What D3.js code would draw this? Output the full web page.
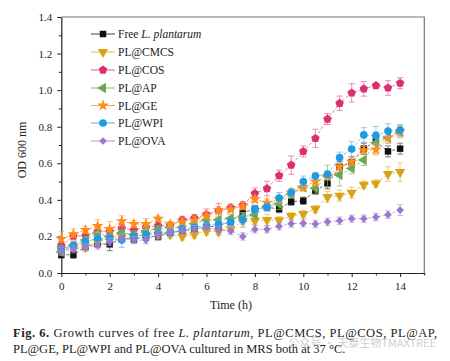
<!DOCTYPE html>
<html>
<head>
<meta charset="utf-8">
<script src="https://cdn.jsdelivr.net/npm/d3@7"></script>
<style>
  body { margin: 0; background: #fff; }
  svg { display: block; }
</style>
</head>
<body>
<div id="chart"></div>
<script>
const width = 450;
const height = 361;

const times = d3.range(0, 14.01, 0.5);
const seriesNames = ["Free L. plantarum", "PL@CMCS", "PL@COS", "PL@AP", "PL@GE", "PL@WPI", "PL@OVA"];
const seriesColors = ["#111111", "#d9a20f", "#dc2f73", "#6aa84f", "#ff8c1a", "#1e9be3", "#9a78cf"];
const lineColors = ["#444444", "#e2b84a", "#e35a8e", "#86b86c", "#ffa44a", "#55b3ea", "#ae95d9"];

const freeVals = [0.10, 0.10, 0.145, 0.16, 0.157, 0.19, 0.185, 0.20, 0.20, 0.22, 0.23, 0.24, 0.25, 0.26, 0.28, 0.33, 0.35, 0.36, 0.35, 0.39, 0.395, 0.45, 0.49, 0.58, 0.605, 0.68, 0.72, 0.665, 0.68];
const cmcsVals = [0.13, 0.14, 0.14, 0.17, 0.19, 0.20, 0.20, 0.21, 0.21, 0.21, 0.20, 0.21, 0.228, 0.226, 0.24, 0.284, 0.286, 0.29, 0.288, 0.312, 0.323, 0.35, 0.416, 0.423, 0.439, 0.483, 0.49, 0.541, 0.552];
const cosVals = [0.15, 0.20, 0.204, 0.226, 0.226, 0.244, 0.235, 0.25, 0.257, 0.26, 0.29, 0.30, 0.32, 0.341, 0.357, 0.37, 0.435, 0.462, 0.532, 0.59, 0.665, 0.736, 0.842, 0.928, 0.985, 1.007, 1.025, 1.012, 1.038];
const apVals = [0.115, 0.15, 0.18, 0.217, 0.20, 0.22, 0.21, 0.23, 0.24, 0.25, 0.25, 0.27, 0.29, 0.291, 0.299, 0.308, 0.317, 0.363, 0.377, 0.43, 0.468, 0.463, 0.53, 0.536, 0.572, 0.618, 0.712, 0.739, 0.77];
const geVals = [0.186, 0.212, 0.235, 0.257, 0.241, 0.283, 0.268, 0.268, 0.297, 0.266, 0.28, 0.29, 0.315, 0.344, 0.348, 0.366, 0.403, 0.384, 0.403, 0.441, 0.47, 0.50, 0.53, 0.581, 0.609, 0.672, 0.676, 0.74, 0.776];
const wpiVals = [0.13, 0.15, 0.17, 0.19, 0.19, 0.18, 0.20, 0.21, 0.22, 0.22, 0.24, 0.25, 0.26, 0.268, 0.279, 0.29, 0.348, 0.36, 0.41, 0.44, 0.50, 0.53, 0.54, 0.631, 0.678, 0.755, 0.751, 0.776, 0.782];
const ovaVals = [0.12, 0.13, 0.14, 0.15, 0.17, 0.19, 0.18, 0.18, 0.21, 0.22, 0.23, 0.24, 0.25, 0.235, 0.23, 0.20, 0.239, 0.239, 0.255, 0.27, 0.272, 0.268, 0.28, 0.286, 0.297, 0.297, 0.306, 0.319, 0.344];

const freeErr = [0.02, 0.02, 0.02, 0.02, 0.035, 0.02, 0.02, 0.02, 0.02, 0.02, 0.02, 0.02, 0.02, 0.02, 0.02, 0.02, 0.02, 0.02, 0.02, 0.02, 0.02, 0.02, 0.03, 0.03, 0.03, 0.03, 0.04, 0.03, 0.03];
const cmcsErr = [0.02, 0.02, 0.02, 0.02, 0.02, 0.02, 0.02, 0.02, 0.02, 0.02, 0.02, 0.02, 0.02, 0.02, 0.02, 0.02, 0.02, 0.03, 0.02, 0.02, 0.02, 0.02, 0.03, 0.03, 0.03, 0.02, 0.02, 0.04, 0.05];
const cosErr = [0.02, 0.02, 0.02, 0.02, 0.02, 0.02, 0.02, 0.02, 0.02, 0.02, 0.02, 0.02, 0.03, 0.04, 0.02, 0.02, 0.03, 0.04, 0.03, 0.05, 0.03, 0.05, 0.03, 0.04, 0.05, 0.04, 0.01, 0.04, 0.03];
const apErr = [0.02, 0.02, 0.02, 0.03, 0.02, 0.02, 0.02, 0.02, 0.02, 0.02, 0.02, 0.02, 0.02, 0.02, 0.02, 0.02, 0.02, 0.02, 0.03, 0.02, 0.02, 0.03, 0.06, 0.06, 0.03, 0.03, 0.06, 0.03, 0.03];
const geErr = [0.04, 0.03, 0.02, 0.035, 0.04, 0.03, 0.02, 0.03, 0.015, 0.015, 0.02, 0.02, 0.02, 0.02, 0.02, 0.02, 0.02, 0.02, 0.02, 0.02, 0.02, 0.02, 0.02, 0.02, 0.02, 0.02, 0.03, 0.03, 0.03];
const wpiErr = [0.02, 0.02, 0.02, 0.02, 0.02, 0.04, 0.02, 0.02, 0.02, 0.02, 0.02, 0.02, 0.02, 0.02, 0.02, 0.04, 0.02, 0.02, 0.03, 0.02, 0.03, 0.02, 0.02, 0.03, 0.04, 0.04, 0.05, 0.04, 0.03];
const ovaErr = [0.02, 0.02, 0.02, 0.02, 0.02, 0.02, 0.02, 0.02, 0.02, 0.02, 0.02, 0.02, 0.02, 0.02, 0.02, 0.02, 0.02, 0.02, 0.02, 0.02, 0.02, 0.02, 0.02, 0.02, 0.02, 0.02, 0.02, 0.02, 0.03];

const yTicks = [0, 0.2, 0.4, 0.6, 0.8, 1.0, 1.2, 1.4];
const xTicks = [0, 2, 4, 6, 8, 10, 12, 14];

const allVals = [freeVals, cmcsVals, cosVals, apVals, geVals, wpiVals, ovaVals];
const allErr = [freeErr, cmcsErr, cosErr, apErr, geErr, wpiErr, ovaErr];

const font = "'Liberation Serif', 'Times New Roman', serif";

const svg = d3.select("#chart").append("svg")
    .attr("width", width)
    .attr("height", height);

const x = d3.scaleLinear().domain([0, 15]).range([61.3, 424.3]);
const y = d3.scaleLinear().domain([0, 1.4]).range([273, 17]);

// pentagon shape for the COS series
const pentagon = {
    draw(context, size) {
        const r = Math.sqrt(size / 2.38);
        for (let i = 0; i < 5; i++) {
            const a = -Math.PI / 2 + i * 2 * Math.PI / 5;
            if (i === 0) context.moveTo(r * Math.cos(a), r * Math.sin(a));
            else context.lineTo(r * Math.cos(a), r * Math.sin(a));
        }
        context.closePath();
    }
};

const markers = [
    { type: d3.symbolSquare, size: 42, rot: 0 },
    { type: d3.symbolTriangle, size: 46, rot: 180 },
    { type: pentagon, size: 48, rot: 0 },
    { type: d3.symbolTriangle, size: 46, rot: -90 },
    { type: d3.symbolStar, size: 44, rot: 0 },
    { type: d3.symbolCircle, size: 46, rot: 0 },
    { type: d3.symbolSquare, size: 30, rot: 45 }
];

// frame (top and right)
svg.append("path")
    .attr("d", `M${x(0)},${y(1.4)} H${x(15)} V${y(0)}`)
    .attr("fill", "none")
    .attr("stroke", "#777")
    .attr("stroke-width", 1.2);

// axes
const xAxis = svg.append("g")
    .attr("transform", `translate(0,${y(0)})`)
    .call(d3.axisBottom(x).tickValues(xTicks).tickFormat(d3.format("d")).tickSize(4).tickSizeOuter(0));
svg.append("g")
    .attr("transform", `translate(0,${y(0)})`)
    .call(d3.axisBottom(x).tickValues(d3.range(1, 16, 2)).tickFormat("").tickSize(2.5).tickSizeOuter(0))
    .select(".domain").remove();

const yAxis = svg.append("g")
    .attr("transform", `translate(${x(0)},0)`)
    .call(d3.axisLeft(y).tickValues(yTicks).tickFormat(d3.format(".1f")).tickSize(4).tickSizeOuter(0));
svg.append("g")
    .attr("transform", `translate(${x(0)},0)`)
    .call(d3.axisLeft(y).tickValues(d3.range(0.1, 1.4, 0.2)).tickFormat("").tickSize(2.5).tickSizeOuter(0))
    .select(".domain").remove();

svg.selectAll(".domain").attr("stroke", "#222").attr("stroke-width", 1.2);
svg.selectAll(".tick line").attr("stroke", "#222");
svg.selectAll(".tick text")
    .attr("font-family", font)
    .attr("font-size", 11)
    .attr("fill", "#222");
xAxis.selectAll(".tick text").attr("dy", "0.9em");
yAxis.selectAll(".tick text").attr("x", -9);

svg.append("text")
    .attr("x", 231)
    .attr("y", 309)
    .attr("text-anchor", "middle")
    .attr("font-family", font)
    .attr("font-size", 12)
    .attr("fill", "#222")
    .text("Time (h)");

svg.append("text")
    .attr("transform", "translate(26,150) rotate(-90)")
    .attr("text-anchor", "middle")
    .attr("font-family", font)
    .attr("font-size", 12)
    .attr("fill", "#222")
    .text("OD 600 nm");

// series
allVals.forEach((vals, s) => {
    const pts = vals.map((v, i) => ({ t: times[i], v: v, e: allErr[s][i] }));
    const g = svg.append("g").attr("class", "series");

    g.append("path")
        .datum(pts)
        .attr("d", d3.line().x(d => x(d.t)).y(d => y(d.v)))
        .attr("fill", "none")
        .attr("stroke", lineColors[s])
        .attr("stroke-width", 0.8)
        .attr("stroke-dasharray", "3,2");

    const eb = g.selectAll(".err").data(pts).join("g")
        .attr("stroke", lineColors[s])
        .attr("stroke-opacity", 0.75)
        .attr("stroke-width", 0.9);
    eb.append("line")
        .attr("x1", d => x(d.t)).attr("x2", d => x(d.t))
        .attr("y1", d => y(d.v - d.e)).attr("y2", d => y(d.v + d.e));
    eb.append("line")
        .attr("x1", d => x(d.t) - 3).attr("x2", d => x(d.t) + 3)
        .attr("y1", d => y(d.v + d.e)).attr("y2", d => y(d.v + d.e));
    eb.append("line")
        .attr("x1", d => x(d.t) - 3).attr("x2", d => x(d.t) + 3)
        .attr("y1", d => y(d.v - d.e)).attr("y2", d => y(d.v - d.e));

    const m = markers[s];
    g.selectAll(".mk").data(pts).join("path")
        .attr("transform", d => `translate(${x(d.t)},${y(d.v)}) rotate(${m.rot})`)
        .attr("d", d3.symbol().type(m.type).size(m.size))
        .attr("fill", seriesColors[s]);
});

// legend
const legendY = [34, 52, 70, 88, 105.5, 123, 141];
seriesNames.forEach((name, s) => {
    const ly = legendY[s];
    svg.append("line")
        .attr("x1", 91).attr("x2", 115)
        .attr("y1", ly).attr("y2", ly)
        .attr("stroke", lineColors[s])
        .attr("stroke-width", 1);
    const m = markers[s];
    svg.append("path")
        .attr("transform", `translate(103,${ly}) rotate(${m.rot})`)
        .attr("d", d3.symbol().type(m.type).size(m.size))
        .attr("fill", seriesColors[s]);
    const t = svg.append("text")
        .attr("x", 118)
        .attr("y", ly + 4)
        .attr("font-family", font)
        .attr("font-size", 11.5)
        .attr("fill", "#222");
    if (s === 0) {
        t.append("tspan").text("Free ");
        t.append("tspan").attr("font-style", "italic").text("L. plantarum");
    } else {
        t.text(name);
    }
});

// caption
const cap1 = svg.append("text")
    .attr("x", 13)
    .attr("y", 337)
    .attr("font-family", font)
    .attr("font-size", 12.5)
    .attr("fill", "#222")
    .attr("textLength", 424)
    .attr("lengthAdjust", "spacing");
cap1.append("tspan").attr("font-weight", "bold").text("Fig. 6.");
cap1.append("tspan").text(" Growth curves of free ");
cap1.append("tspan").attr("font-style", "italic").text("L. plantarum");
cap1.append("tspan").text(", PL@CMCS, PL@COS, PL@AP,");

svg.append("text")
    .attr("x", 13)
    .attr("y", 353)
    .attr("font-family", font)
    .attr("font-size", 12.5)
    .attr("fill", "#222")
    .text("PL@GE, PL@WPI and PL@OVA cultured in MRS both at 37 °C.");

svg.append("text")
    .attr("x", 436)
    .attr("y", 347)
    .attr("text-anchor", "end")
    .attr("font-family", "'Noto Sans CJK SC', sans-serif")
    .attr("font-size", 11)
    .attr("fill", "#c4c4c4")
    .attr("fill-opacity", 0.85)
    .text("公众号 · 天泰生物TMAXTREE");
</script>
</body>
</html>
